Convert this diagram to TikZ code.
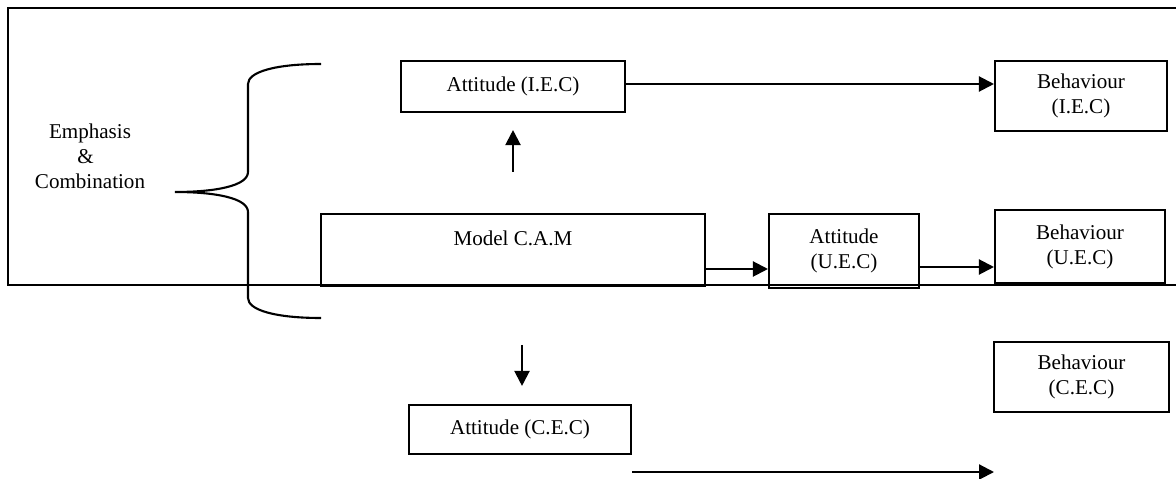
\documentclass[tikz,border=0pt]{standalone}
\usepackage{fontspec}
\setmainfont{Liberation Serif}
\usepackage{tikz}
\usetikzlibrary{positioning,arrows.meta,calc}

\tikzset{
  box/.style={draw, line width=1.2pt, align=center, inner sep=2pt, font=\fontsize{12}{14.2}\selectfont},
  arr/.style={line width=1.2pt, -{Triangle[length=0.3cm, width=0.3cm]}}
}

\begin{document}
\begin{tikzpicture}[x=0.02cm, y=-0.02cm, font=\fontsize{12}{14.2}\selectfont]
\useasboundingbox (0,0) rectangle (1176,479);
% frame (open on the right)
\draw[line width=1.2pt] (1176,8) -- (8,8) -- (8,285) -- (1176,285);
% brace
\draw[line width=1.2pt]
  (321,64) .. controls (275,64) and (248,72) .. (248,84)
  -- (248,172)
  .. controls (248,186) and (215,192) .. (175,192)
  .. controls (215,192) and (248,198) .. (248,212)
  -- (248,298)
  .. controls (248,310) and (275,318) .. (321,318);
\node[align=center] (emph) at (90,156) {Emphasis\\\hspace*{-5pt}\&\\Combination};
% boxes
\node[box, minimum width=4.48cm, minimum height=1.02cm] (attI) at (513,86.5) {Attitude (I.E.C)};
\node[box, minimum width=3.44cm, minimum height=1.4cm] (behI) at (1081,96) {Behaviour\\(I.E.C)};
\node[box, minimum width=7.68cm, minimum height=1.44cm, text height=0.3cm, text depth=0.5cm] (model) at (513,250) {Model C.A.M};
\node[box, minimum width=3.0cm, minimum height=1.48cm] (attU) at (844,251) {Attitude\\(U.E.C)};
\node[box, minimum width=3.4cm, minimum height=1.46cm] (behU) at (1080,246.5) {Behaviour\\(U.E.C)};
\node[box, minimum width=3.5cm, minimum height=1.4cm] (behC) at (1081.5,377) {Behaviour\\(C.E.C)};
\node[box, minimum width=4.44cm, minimum height=0.98cm] (attC) at (520,429.5) {Attitude (C.E.C)};
% free arrow ends
\coordinate (upS) at (513,172);
\coordinate (dnS) at (522,345);
\coordinate (botA) at (632,472);
\coordinate (botB) at (994,472);
% arrows
\draw[arr] ([yshift=0.05cm]attI.east) -- ([yshift=0.05cm]attI.east -| behI.west);
\draw[arr, shorten >=0.34cm] (upS) -- (attI.south -| upS);
\draw[arr] ([yshift=-0.38cm]model.east) -- ([yshift=-0.38cm]model.east -| attU.west);
\draw[arr] ([yshift=-0.32cm]attU.east) -- ([yshift=-0.32cm]attU.east -| behU.west);
\draw[arr, shorten >=0.36cm] (dnS) -- (attC.north -| dnS);
\draw[arr] (botA) -- (botB);
\end{tikzpicture}
\end{document}
